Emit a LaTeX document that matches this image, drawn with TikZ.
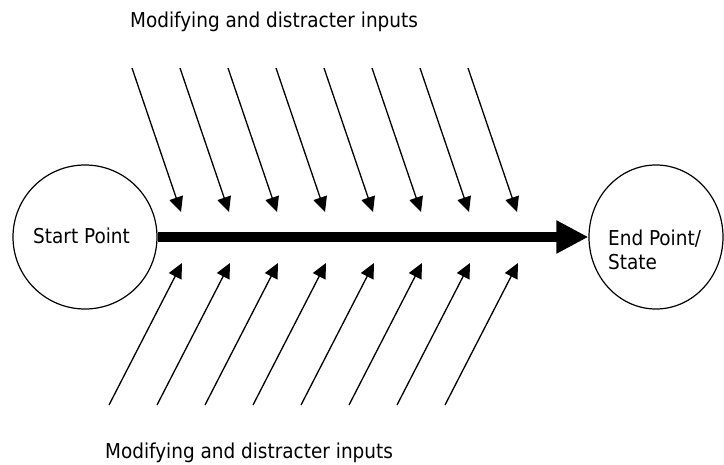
\documentclass[tikz,border=0pt]{standalone}
\usepackage{fontspec}
\setmainfont{DejaVu Sans Condensed}
\usetikzlibrary{arrows.meta,shapes.geometric}
\begin{document}
\begin{tikzpicture}[x=1pt,y=-1pt,
  state/.style={draw, line width=1.2pt, inner sep=0pt},
  txt/.style={font=\fontsize{20.5}{24}\selectfont, inner sep=0pt},
  input/.style={line width=1.3pt, -{Triangle[length=15pt,width=14pt]}},
  flow/.style={line width=10pt, -{Triangle[length=32pt,width=31pt]}}]
\useasboundingbox (0,0) rectangle (724,465);

% start and end states
\node[state, circle, minimum size=144pt] (start) at (85,237) {};
\node[state, ellipse, minimum width=134pt, minimum height=144pt] (end) at (656,237) {};

\node[txt, anchor=base west] (starttext) at (33,244) {Start Point};
\node[txt, anchor=base west, align=left] (endtext) at (608,270) {End Point/\\State};

% main flow
\draw[flow] (start) -- (end);

% inputs from above and below
\foreach \k in {0,...,7} {
  \coordinate (a\k) at (132+48*\k, 68);
  \coordinate (b\k) at (181+48*\k, 212);
  \draw[input] (a\k) -- (b\k);
  \coordinate (c\k) at (109+48*\k, 405);
  \coordinate (d\k) at (182+48*\k, 263);
  \draw[input] (c\k) -- (d\k);
}

% captions
\node[txt, anchor=base west] (topnote) at (130,28) {Modifying and distracter inputs};
\node[txt, anchor=base west] (botnote) at (105,458) {Modifying and distracter inputs};
\end{tikzpicture}
\end{document}
